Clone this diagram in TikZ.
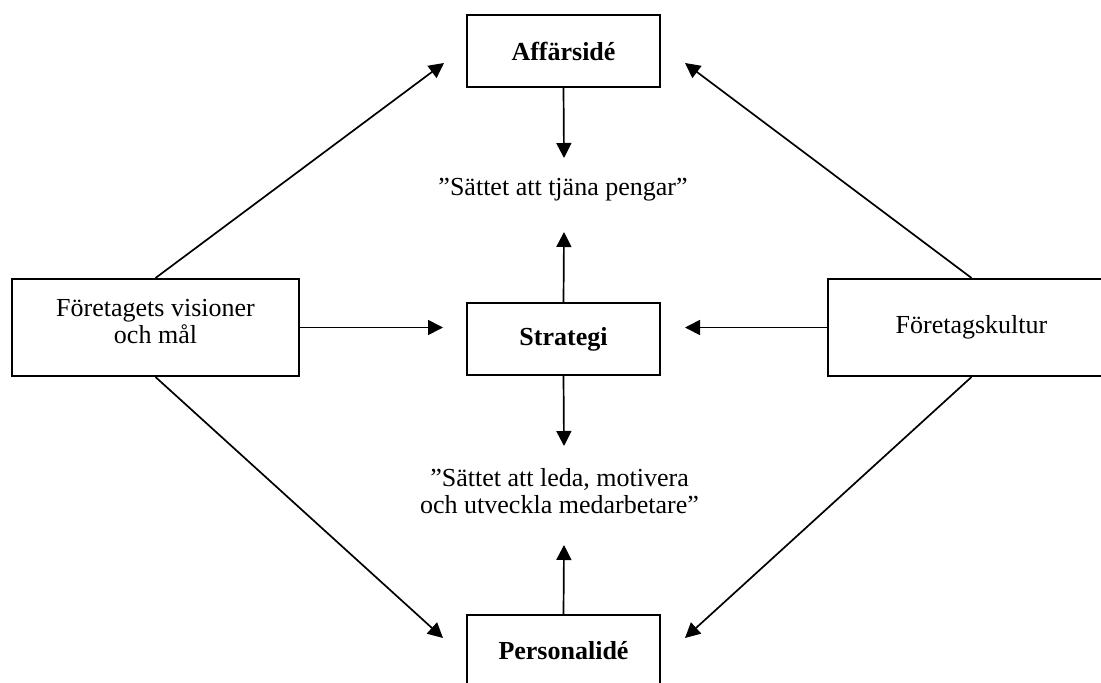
\documentclass[tikz,border=0pt]{standalone}
\usepackage{fontspec}
\setmainfont{Liberation Serif}
\usetikzlibrary{arrows.meta}
\begin{document}
\begin{tikzpicture}[x=1pt,y=-1pt,
  txt/.style={font=\fontsize{26}{27}\selectfont, inner sep=0pt},
  box/.style={txt, draw, line width=2pt, align=center},
  smallbox/.style={box, minimum width=193pt, minimum height=72pt, font=\fontsize{26}{27}\selectfont\bfseries},
  bigbox/.style={box, minimum width=287pt, minimum height=97pt},
  arr/.style={line width=1.7pt, -{Triangle[length=15pt,width=15pt]}}
]
\useasboundingbox (0,0) rectangle (1101,683);

% boxes
\node[smallbox] (aff)   at (563.5,51)  {Affärsidé};
\node[smallbox] (strat) at (563.5,339) {Strategi};
\node[smallbox] (pers)  at (563.5,651) {Personalidé};
\node[bigbox]   (vis)   at (155.5,327.5) {};
\node[bigbox]   (kult)  at (971.5,327.5) {Företagskultur};

% texts (anchored at the baseline of their last line)
\node[txt, anchor=base, align=center] (visText) at (155.5,343) {Företagets visioner\\och mål};
\node[txt, anchor=base] (pengar) at (563,195) {”Sättet att tjäna pengar”};
\node[txt, anchor=base, align=center] (motiv) at (559.5,513) {”Sättet att leda, motivera\\och utveckla medarbetare”};

% arrow end points
\coordinate (pTop)  at (564,158);
\coordinate (pBot)  at (564,232);
\coordinate (mTop)  at (564,446);
\coordinate (mBot)  at (564,545);
\coordinate (affL)  at (444,63);
\coordinate (affR)  at (685,63);
\coordinate (persL) at (443,638);
\coordinate (persR) at (685,638);
\coordinate (stL)   at (443,327.5);
\coordinate (stR)   at (685,327.5);

% vertical arrows
\draw[arr] (aff.south)   -- (pTop);
\draw[arr] (strat.north) -- (pBot);
\draw[arr] (strat.south) -- (mTop);
\draw[arr] (pers.north)  -- (mBot);

% horizontal arrows
\draw[arr] (vis.east)  -- (stL);
\draw[arr] (kult.west) -- (stR);

% diagonal arrows
\draw[arr] (vis.north)  -- (affL);
\draw[arr] (vis.south)  -- (persL);
\draw[arr] (kult.north) -- (affR);
\draw[arr] (kult.south) -- (persR);
\end{tikzpicture}
\end{document}
